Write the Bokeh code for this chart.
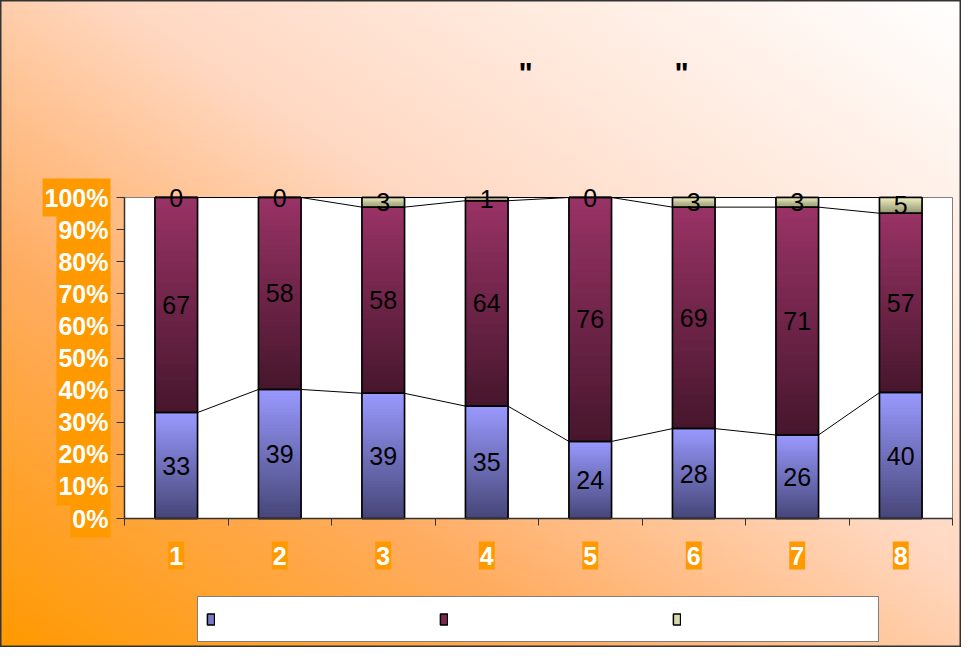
import numpy as np
from bokeh.plotting import figure
from bokeh.models import FixedTicker, Range1d, Legend, LegendItem
from bokeh.core.properties import value
from bokeh.embed import file_html
from bokeh.resources import INLINE

# ---- data ----
categories = ["1", "2", "3", "4", "5", "6", "7", "8"]
series_1 = [33, 39, 39, 35, 24, 28, 26, 40]
series_2 = [67, 58, 58, 64, 76, 69, 71, 57]
series_3 = [0, 0, 3, 1, 0, 3, 3, 5]
y_tick_values = [0, 10, 20, 30, 40, 50, 60, 70, 80, 90, 100]
y_tick_labels = ["0%", "10%", "20%", "30%", "40%", "50%", "60%", "70%", "80%", "90%", "100%"]
legend_labels = ["\u00a0", "\u00a0", "\u00a0"]
title_text = '"' + "\u00a0" * 17 + '"'

# ---- styles / layout constants ----
series = [series_1, series_2, series_3]
grad_top = [(0x99, 0x99, 0xff), (0x99, 0x33, 0x66), (0xf2, 0xf2, 0xc4)]
grad_bottom = [(0x46, 0x46, 0x78), (0x46, 0x16, 0x2c), (0x8c, 0x8c, 0x6c)]
legend_fill = ["#7a7ac4", "#7a2850", "#d8d8a8"]
FONT = "Liberation Sans"
ORANGE = "#ff9900"
W, H = 961, 647
PLOT_L, PLOT_R, PLOT_T, PLOT_B = 124, 952, 197, 518   # pixel box of the plot area
TITLE_X, TITLE_BASE = 518, 72

n = len(categories)
ymax = 100.0
px_x = (PLOT_R - PLOT_L) / n
px_y = (PLOT_B - PLOT_T) / ymax
x_range = Range1d(-PLOT_L / px_x, n + (W - PLOT_R) / px_x)
y_range = Range1d(-(H - PLOT_B) / px_y, ymax + PLOT_T / px_y)

x_centers = np.arange(n) + 0.5
bar_w = 0.41
totals = np.sum(np.array(series, dtype=float), axis=0)
shares = [100.0 * np.array(s, dtype=float) / totals for s in series]
bottoms, tops = [], []
cum = np.zeros(n)
for sh in shares:
    bottoms.append(cum.copy())
    cum = cum + sh
    tops.append(cum.copy())

p = figure(width=W, height=H, x_range=x_range, y_range=y_range,
           output_backend="svg", toolbar_location=None,
           min_border_left=0, min_border_right=0, min_border_top=0, min_border_bottom=0)
p.styles = {"background": "linear-gradient(to top right, #ff9900 0%, #ffac60 30%, #ffd8c2 56%, #ffffff 100%)"}
p.border_fill_color = None
p.background_fill_color = None
p.outline_line_color = "#333333"
p.outline_line_width = 2
p.xgrid.visible = False
p.ygrid.visible = False

# white plot area
p.quad(left=[0], right=[n], bottom=[0], top=[ymax], fill_color="white",
       line_color="#808080", line_width=1)

# solid base bars (also used by the legend)
base_r = []
for k in range(len(series)):
    r = p.quad(left=x_centers - bar_w / 2, right=x_centers + bar_w / 2,
               bottom=bottoms[k], top=tops[k], fill_color=legend_fill[k],
               line_color="black", line_width=1.5)
    base_r.append(r)

# gradient overlay built from overlapping thin slices (top to bottom)
N = 40
L, R, B, T, C = [], [], [], [], []
for k in range(len(series)):
    for i in range(n):
        b, t = bottoms[k][i], tops[k][i]
        h = t - b
        if h <= 0:
            continue
        for j in range(N):
            f = (j + 0.5) / N
            L.append(x_centers[i] - bar_w / 2)
            R.append(x_centers[i] + bar_w / 2)
            T.append(t - h * j / N)
            B.append(max(b, t - h * (j + 1.6) / N))
            col = tuple(int(round(grad_top[k][c] + (grad_bottom[k][c] - grad_top[k][c]) * f)) for c in range(3))
            C.append("#%02x%02x%02x" % col)
p.quad(left=L, right=R, bottom=B, top=T, fill_color=C, line_color=None)

# outlines
for k in range(len(series)):
    p.quad(left=x_centers - bar_w / 2, right=x_centers + bar_w / 2,
           bottom=bottoms[k], top=tops[k], fill_color=None, line_color="black", line_width=1.5)

# series lines
x0, y0, x1, y1 = [], [], [], []
for k in range(len(series)):
    for i in range(n - 1):
        x0.append(x_centers[i] + bar_w / 2)
        y0.append(tops[k][i])
        x1.append(x_centers[i + 1] - bar_w / 2)
        y1.append(tops[k][i + 1])
p.segment(x0=x0, y0=y0, x1=x1, y1=y1, line_color="black", line_width=1)

# data labels
lx, ly, lt = [], [], []
for k in range(len(series)):
    for i in range(n):
        lx.append(x_centers[i])
        ly.append((bottoms[k][i] + tops[k][i]) / 2)
        lt.append(str(series[k][i]))
p.text(x=lx, y=ly, text=lt, text_align="center", text_baseline="middle",
       text_font=value(FONT), text_font_size="25px", text_color="black")

# axes, drawn at fixed data locations
ya = p.yaxis[0]
ya.fixed_location = 0
ya.bounds = (0, ymax)
ya.ticker = FixedTicker(ticks=y_tick_values)
ya.major_label_overrides = {v: "" for v in y_tick_values}
ya.major_tick_in = 0
ya.major_tick_out = 8
ya.minor_tick_line_color = None
ya.axis_line_color = "#333333"
ya.axis_line_width = 1.5
ya.major_tick_line_color = "#333333"

xa = p.xaxis[0]
xa.fixed_location = 0
xa.bounds = (0, n)
xa.ticker = FixedTicker(ticks=list(x_centers), minor_ticks=list(range(n + 1)))
xa.major_label_overrides = {float(x): "" for x in x_centers}
xa.major_tick_in = 0
xa.major_tick_out = 0
xa.minor_tick_in = 0
xa.minor_tick_out = 7
xa.minor_tick_line_color = "#333333"
xa.axis_line_color = "#333333"
xa.axis_line_width = 1.5

# tick labels in orange boxes
p.text(x=[0] * len(y_tick_values), y=y_tick_values, text=y_tick_labels,
       x_offset=-14, text_align="right", text_baseline="middle",
       text_font=value(FONT), text_font_style="bold", text_font_size="25px",
       text_color="white", background_fill_color=ORANGE, padding=(2, 5))
p.text(x=list(x_centers), y=[0] * n, text=categories,
       y_offset=37, text_align="center", text_baseline="middle",
       text_font=value(FONT), text_font_style="bold", text_font_size="25px",
       text_color="white", background_fill_color=ORANGE, padding=(1, 5))

# title
p.text(x=[(TITLE_X - PLOT_L) / px_x], y=[ymax + (PLOT_T - TITLE_BASE) / px_y], text=[title_text],
       text_align="left", text_baseline="alphabetic",
       text_font=value(FONT), text_font_style="bold", text_font_size="30px", text_color="black")

# legend
legend = Legend(items=[LegendItem(label=legend_labels[k], renderers=[base_r[k]]) for k in range(3)],
                orientation="horizontal", location=(197, 5),
                background_fill_color="white", background_fill_alpha=1.0,
                border_line_color="black", border_line_width=1,
                glyph_width=9, glyph_height=14, label_width=184, label_height=28,
                spacing=35, padding=8, label_standoff=5, margin=0,
                label_text_font_size="14px")
p.add_layout(legend)

open("out.html", "w").write(file_html(p, INLINE))
